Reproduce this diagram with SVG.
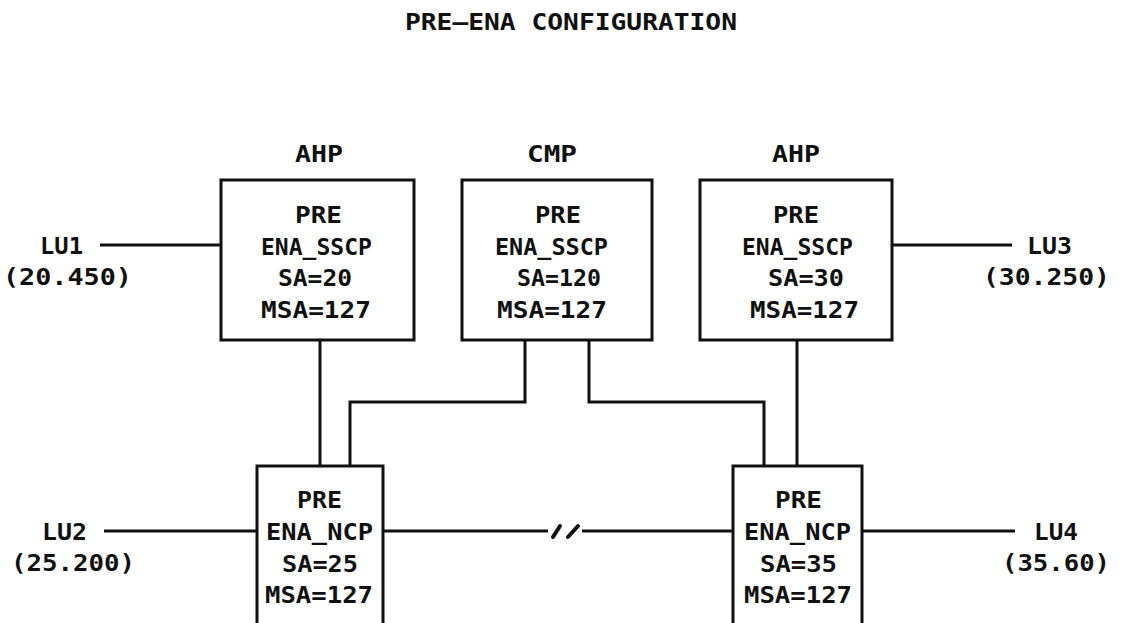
<svg xmlns="http://www.w3.org/2000/svg" width="1121" height="623" viewBox="0 0 1121 623">
<style>
.t{font-family:"DejaVu Sans Mono","Liberation Mono",monospace;font-weight:bold;font-size:23px;fill:#111}
.b{fill:none;stroke:#111;stroke-width:3}
.c{fill:none;stroke:#111;stroke-width:3}
.s{fill:none;stroke:#111;stroke-width:4;stroke-linecap:round}
</style>
<rect width="1121" height="623" fill="#fff"/>
<text class="t" x="405" y="30" textLength="332" lengthAdjust="spacingAndGlyphs">PRE—ENA CONFIGURATION</text>
<g id="connectors">
<path class="c" d="M100,245 H221"/>
<path class="c" d="M892,245 H1012"/>
<path class="c" d="M104,531 H257"/>
<path class="c" d="M862,531 H1015"/>
<path class="c" d="M383,531 H548"/>
<path class="c" d="M582,531 H733"/>
<path class="s" d="M553,537 L560,526 M568,537 L578,526"/>
<path class="c" d="M320,340 V466"/>
<path class="c" d="M525,340 V402 H350 V466"/>
<path class="c" d="M589,340 V402 H764 V466"/>
<path class="c" d="M797,340 V466"/>
</g>
<g id="ahp1">
<text class="t" x="295" y="162" textLength="48" lengthAdjust="spacingAndGlyphs">AHP</text>
<rect class="b" x="221" y="180" width="193" height="160"/>
<text class="t" x="295" y="223" textLength="47" lengthAdjust="spacingAndGlyphs">PRE</text>
<text class="t" x="261" y="255" textLength="111" lengthAdjust="spacingAndGlyphs">ENA_SSCP</text>
<text class="t" x="278" y="286" textLength="74" lengthAdjust="spacingAndGlyphs">SA=20</text>
<text class="t" x="261" y="318" textLength="110" lengthAdjust="spacingAndGlyphs">MSA=127</text>
</g>
<g id="cmp">
<text class="t" x="527" y="162" textLength="50" lengthAdjust="spacingAndGlyphs">CMP</text>
<rect class="b" x="462" y="180" width="190" height="160"/>
<text class="t" x="535" y="223" textLength="46" lengthAdjust="spacingAndGlyphs">PRE</text>
<text class="t" x="495" y="255" textLength="113" lengthAdjust="spacingAndGlyphs">ENA_SSCP</text>
<text class="t" x="517" y="286" textLength="84" lengthAdjust="spacingAndGlyphs">SA=120</text>
<text class="t" x="497" y="318" textLength="110" lengthAdjust="spacingAndGlyphs">MSA=127</text>
</g>
<g id="ahp2">
<text class="t" x="772" y="162" textLength="48" lengthAdjust="spacingAndGlyphs">AHP</text>
<rect class="b" x="700" y="180" width="192" height="160"/>
<text class="t" x="773" y="223" textLength="46" lengthAdjust="spacingAndGlyphs">PRE</text>
<text class="t" x="742" y="255" textLength="111" lengthAdjust="spacingAndGlyphs">ENA_SSCP</text>
<text class="t" x="768" y="286" textLength="76" lengthAdjust="spacingAndGlyphs">SA=30</text>
<text class="t" x="750" y="318" textLength="109" lengthAdjust="spacingAndGlyphs">MSA=127</text>
</g>
<g id="ncp1">
<path class="b" d="M257,623 V466 H383 V623"/>
<text class="t" x="297" y="508" textLength="45" lengthAdjust="spacingAndGlyphs">PRE</text>
<text class="t" x="266" y="540" textLength="107" lengthAdjust="spacingAndGlyphs">ENA_NCP</text>
<text class="t" x="282" y="572" textLength="76" lengthAdjust="spacingAndGlyphs">SA=25</text>
<text class="t" x="265" y="603" textLength="108" lengthAdjust="spacingAndGlyphs">MSA=127</text>
</g>
<g id="ncp2">
<path class="b" d="M733,623 V466 H862 V623"/>
<text class="t" x="775" y="508" textLength="47" lengthAdjust="spacingAndGlyphs">PRE</text>
<text class="t" x="744" y="540" textLength="107" lengthAdjust="spacingAndGlyphs">ENA_NCP</text>
<text class="t" x="760" y="572" textLength="77" lengthAdjust="spacingAndGlyphs">SA=35</text>
<text class="t" x="744" y="603" textLength="108" lengthAdjust="spacingAndGlyphs">MSA=127</text>
</g>
<g id="lu1">
<text class="t" x="40" y="254" textLength="43" lengthAdjust="spacingAndGlyphs">LU1</text>
<text class="t" x="3" y="285" textLength="129" lengthAdjust="spacingAndGlyphs">(20.450)</text>
</g>
<g id="lu3">
<text class="t" x="1027" y="254" textLength="45" lengthAdjust="spacingAndGlyphs">LU3</text>
<text class="t" x="983" y="285" textLength="127" lengthAdjust="spacingAndGlyphs">(30.250)</text>
</g>
<g id="lu2">
<text class="t" x="42" y="540" textLength="45" lengthAdjust="spacingAndGlyphs">LU2</text>
<text class="t" x="11" y="571" textLength="124" lengthAdjust="spacingAndGlyphs">(25.200)</text>
</g>
<g id="lu4">
<text class="t" x="1034" y="540" textLength="44" lengthAdjust="spacingAndGlyphs">LU4</text>
<text class="t" x="1002" y="571" textLength="108" lengthAdjust="spacingAndGlyphs">(35.60)</text>
</g>
</svg>
